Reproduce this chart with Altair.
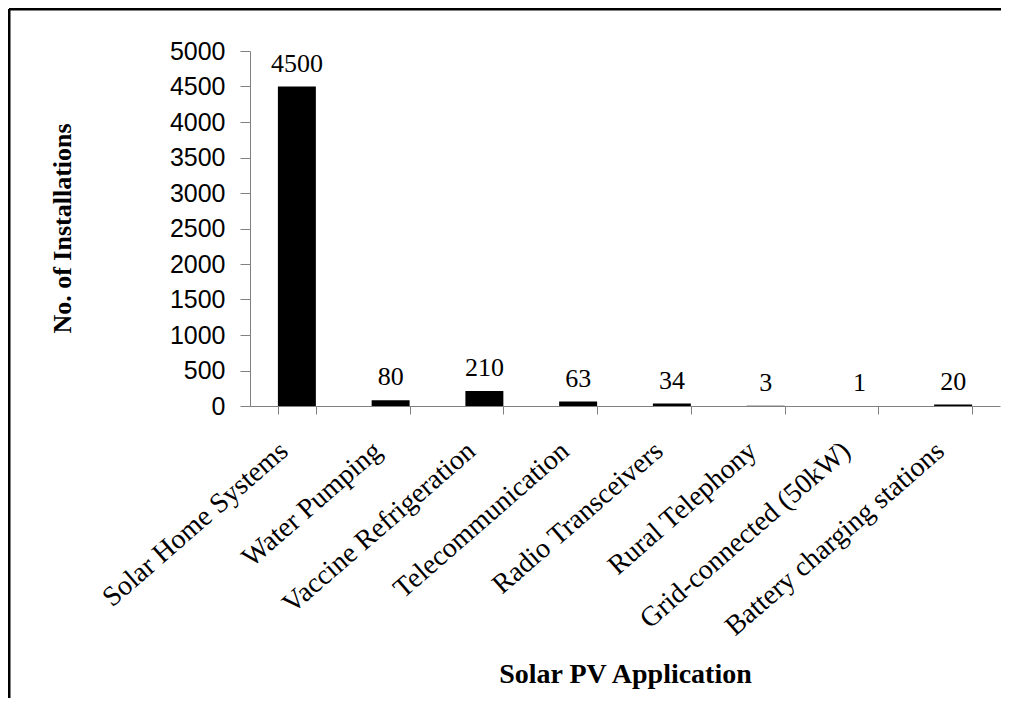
import altair as alt
import pandas as pd

categories = ["Solar Home Systems", "Water Pumping", "Vaccine Refrigeration",
              "Telecommunication", "Radio Transceivers", "Rural Telephony",
              "Grid-connected (50kW)", "Battery charging stations"]
values = [4500, 80, 210, 63, 34, 3, 1, 20]
y_ticks = [0, 500, 1000, 1500, 2000, 2500, 3000, 3500, 4000, 4500, 5000]

df = pd.DataFrame({"cat": categories, "val": values})

AXIS_GREY = "#808080"

x_enc = alt.X(
    "cat:N", sort=categories,
    scale=alt.Scale(paddingInner=0.595, paddingOuter=0.2975),
    title="Solar PV Application",
    axis=alt.Axis(
        labelAngle=-41, labelAlign="right", labelBaseline="middle",
        labelFont="Liberation Serif", labelFontSize=28, labelColor="black",
        labelLimit=0, labelPadding=33, labelOffset=-13,
        tickBand="extent", tickSize=8, tickColor=AXIS_GREY,
        domainColor=AXIS_GREY, grid=False,
        titleFont="Liberation Serif", titleFontWeight="bold", titleFontSize=28,
        titleColor="black", titleY=276, titleX=375, titleBaseline="alphabetic",
        titleAlign="center",
    ),
)
y_enc = alt.Y(
    "val:Q",
    scale=alt.Scale(domain=[0, 5000], nice=False),
    title="No. of Installations",
    axis=alt.Axis(
        values=y_ticks, format="d", tickSize=10, tickColor=AXIS_GREY,
        domainColor=AXIS_GREY,
        labelPadding=15, labelFont="Liberation Sans", labelFontSize=25,
        labelColor="black", grid=False,
        titleFont="Liberation Serif", titleFontWeight="bold", titleFontSize=26,
        titleColor="black", titleX=-180, titleY=177, titleBaseline="alphabetic",
        titleAlign="center", titleAngle=270,
    ),
)

base = alt.Chart(df).encode(x=x_enc, y=y_enc)
bars = base.mark_bar(color="black")
labels = base.mark_text(font="Liberation Serif", fontSize=26, baseline="alphabetic",
                        dy=-15, color="black").encode(text="val:Q")

one = pd.DataFrame({"k": [0]})
frame_top = alt.Chart(one).mark_rule(color="black", strokeWidth=3).encode(
    x=alt.value(-241), x2=alt.value(751), y=alt.value(-42))
frame_left = alt.Chart(one).mark_rule(color="black", strokeWidth=3).encode(
    x=alt.value(-241), y=alt.value(-42), y2=alt.value(660))

chart = alt.layer(bars, labels, frame_top, frame_left).properties(
    width=750, height=355,
    autosize=alt.AutoSizeParams(type="none"),
    padding={"left": 242, "top": 43, "right": 1, "bottom": 292},
).configure_view(stroke=None)

chart.save("out.html", embed_options={"renderer": "svg", "actions": False})
